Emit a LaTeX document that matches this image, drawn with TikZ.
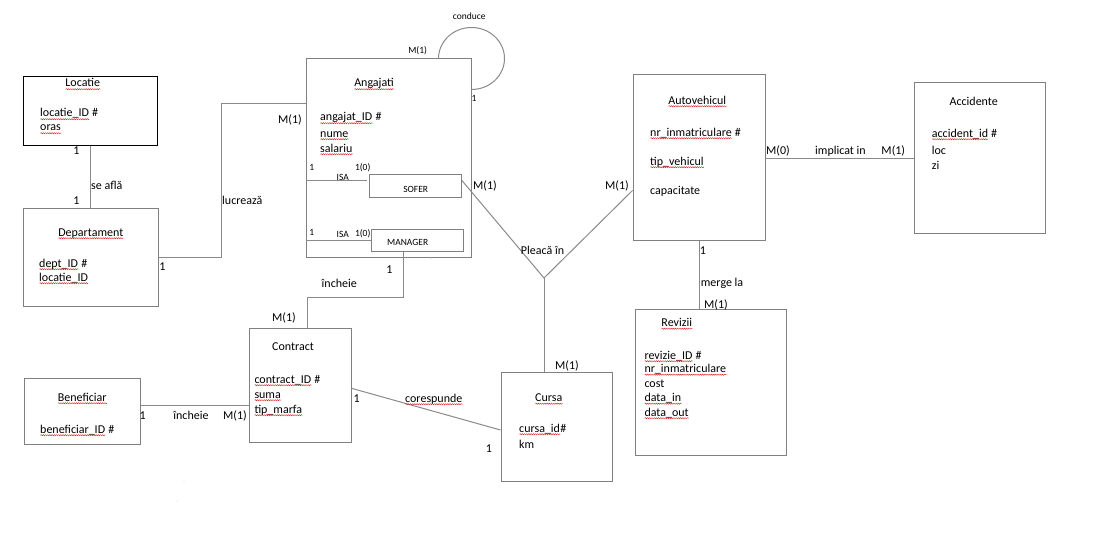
\documentclass[tikz,border=0pt]{standalone}
\usepackage{fontspec}
\setmainfont{Carlito}
\usetikzlibrary{calc,decorations.pathmorphing}
\definecolor{boxgray}{HTML}{808080}
\definecolor{linegray}{HTML}{8A8A8A}
\definecolor{spellred}{HTML}{E02525}
% red wavy underline for spell-checked words
\newcommand\spl[1]{\setbox0\hbox{#1}\leavevmode\rlap{\copy0}%
  \tikz[baseline=0pt,x=1pt,y=1pt]\draw[spellred,line width=0.45pt,decorate,
    decoration={snake,amplitude=0.6pt,segment length=2.2pt}] (0pt,-2.2pt) -- (\the\wd0,-2.2pt);}
\begin{document}
\begin{tikzpicture}[x=1pt,y=1pt,font=\fontsize{12}{14}\selectfont,
  ent/.style={draw=boxgray,line width=1pt,inner sep=0pt},
  conn/.style={draw=linegray,line width=1pt},
  txt/.style={inner sep=0pt,anchor=base},
  txtw/.style={inner sep=0pt,anchor=base west},
  sm/.style={font=\fontsize{9.5}{11}\selectfont}]
\useasboundingbox[fill=white] (0,0) rectangle (1104,-551);

% entities
\node[ent,draw=black,minimum width=134,minimum height=68] (loc) at (90,-111) {};
\node[ent,minimum width=135,minimum height=98] (dep) at (90.5,-257) {};
\node[ent,minimum width=165,minimum height=198] (ang) at (388.5,-158) {};
\node[ent,minimum width=92,minimum height=23] (sofer) at (415,-185.5) {};
\node[ent,minimum width=92,minimum height=22] (man) at (417,-240) {};
\node[ent,minimum width=132,minimum height=165] (aut) at (699,-157.5) {};
\node[ent,minimum width=131,minimum height=150] (acc) at (979.5,-158) {};
\node[ent,minimum width=151,minimum height=146] (rev) at (710.5,-382) {};
\node[ent,minimum width=111,minimum height=109] (cur) at (556.5,-426.5) {};
\node[ent,minimum width=102,minimum height=114] (con) at (300,-385) {};
\node[ent,minimum width=116,minimum height=66] (ben) at (82,-411) {};

% connectors
\draw[conn] (loc.south) -- (loc.south |- dep.north);
\coordinate (lucB) at (221,-104);
\draw[conn] (dep.east) -| (lucB) -- (lucB -| ang.west);
\coordinate (isaA) at ($(ang.west |- sofer.north)+(0,-7)$);
\coordinate (isaB) at ($(sofer.west |- sofer.north)+(-2,-7)$);
\draw[conn] (isaA) -- (isaB);
\draw[conn] (ang.west |- man.west) -- (man.west);
\draw[conn] ($(ang.north east)+(-33,0)$) arc[start angle=180,end angle=-90,x radius=33pt,y radius=31pt];
\coordinate (pv) at (544,-278);
\draw[conn] ($(sofer.east)+(0,5.5)$) -- (pv) -- ($(aut.west)+(0,-33)$);
\draw[conn] (pv) -- (pv |- cur.north);
\draw[conn] (aut.east |- acc.west) -- (acc.west);
\draw[conn] (aut.south) -- (aut.south |- rev.north);
\draw[conn] ($(man.south)+(-14,0)$) -- ++(0,-46) -| ($(con.north)+(7,0)$);
\draw[conn] ($(ben.east)+(0,6)$) -- ($(con.west)+(0,-20)$);
\draw[conn] ($(con.east)+(0,-3.3)$) -- ($(cur.west)+(0,-3.5)$);

% faint specks
\fill[gray!60] (431,-258) circle (0.6);
\fill[gray!40] (184,-481) circle (0.5);
\fill[gray!40] (177,-501) circle (0.5);

% Locatie
\node[txt] (tLoc) at (83,-87) {\spl{Locatie}};
\node[txtw] (aLoc1) at (40,-117) {\spl{locatie\_ID} \#};
\node[txtw] (aLoc2) at (40,-131) {\spl{oras}};
% Departament
\node[txt] (tDep) at (91,-236) {\spl{Departament}};
\node[txtw] (aDep1) at (39,-267) {\spl{dept\_ID} \#};
\node[txtw] (aDep2) at (39,-281) {\spl{locatie\_ID}};
% Angajati
\node[txt] (tAng) at (374.3,-87) {\spl{Angajati}};
\node[txtw] (aAng1) at (320,-121) {\spl{angajat\_ID} \#};
\node[txtw] (aAng2) at (320,-137) {\spl{nume}};
\node[txtw] (aAng3) at (320,-152) {\spl{salariu}};
\node[txt,sm] (tSof) at (415.7,-192) {SOFER};
\node[txt,sm] (tMan) at (407.7,-245) {MANAGER};
\node[txt,sm] (isa1) at (342.7,-180) {ISA};
\node[txt,sm] (isa2) at (342.7,-237.5) {ISA};
\node[txt,sm] (cS1) at (311.7,-170) {1};
\node[txt,sm] (cS2) at (362.7,-170) {1(0)};
\node[txt,sm] (cM1) at (311.7,-235.5) {1};
\node[txt,sm] (cM2) at (362.7,-236) {1(0)};
\node[txt,sm] (lCond) at (469.3,-20) {conduce};
\node[txt,sm] (cCond1) at (417.7,-53.5) {M(1)};
\node[txt,sm] (cCond2) at (474,-102) {1};
% lucreaza / se afla
\node[txtw] (lLuc) at (222,-204) {lucrează};
\node[txt] (cLuc1) at (162.3,-270) {1};
\node[txt] (cLuc2) at (290,-123) {M(1)};
\node[txtw] (lSe) at (91,-189) {se află};
\node[txt] (cSe1) at (76.3,-154) {1};
\node[txt] (cSe2) at (76.3,-204) {1};
% Pleaca in
\node[txt] (cPl1) at (485,-189) {M(1)};
\node[txt] (cPl2) at (617,-189) {M(1)};
\node[txt] (lPl) at (542.5,-254.5) {Pleacă în};
\node[txt] (cPl3) at (567,-369) {M(1)};
% Autovehicul
\node[txt] (tAut) at (697.5,-104) {\spl{Autovehicul}};
\node[txtw] (aAut1) at (650,-136) {\spl{nr\_inmatriculare} \#};
\node[txtw] (aAut2) at (650,-165) {\spl{tip\_vehicul}};
\node[txtw] (aAut3) at (650,-194) {capacitate};
% implicat in
\node[txt] (cImp1) at (778,-154) {M(0)};
\node[txt] (lImp) at (840.5,-154) {implicat in};
\node[txt] (cImp2) at (893.3,-154) {M(1)};
% Accidente
\node[txt] (tAcc) at (973.7,-105.5) {Accidente};
\node[txtw] (aAcc1) at (931.7,-137) {\spl{accident\_id} \#};
\node[txtw] (aAcc2) at (931.7,-154) {loc};
\node[txtw] (aAcc3) at (931.7,-169) {zi};
% merge la
\node[txt] (cMer1) at (703,-254) {1};
\node[txtw] (lMer) at (700.7,-286.5) {merge la};
\node[txt] (cMer2) at (716,-308) {M(1)};
% Revizii
\node[txt] (tRev) at (677,-326.5) {\spl{Revizii}};
\node[txtw] (aRev1) at (644.3,-359) {\spl{revizie\_ID} \#};
\node[txtw] (aRev2) at (644.3,-372.5) {\spl{nr\_inmatriculare}};
\node[txtw] (aRev3) at (644.3,-387.5) {cost};
\node[txtw] (aRev4) at (644.3,-401.5) {\spl{data\_in}};
\node[txtw] (aRev5) at (644.3,-416) {\spl{data\_out}};
% Cursa
\node[txt] (tCur) at (549,-401.5) {\spl{Cursa}};
\node[txtw] (aCur1) at (519,-432) {\spl{cursa\_id}\#};
\node[txtw] (aCur2) at (519,-448) {km};
% corespunde
\node[txt] (cCor1) at (356.7,-402.5) {1};
\node[txt] (lCor) at (434,-402) {\spl{corespunde}};
\node[txt] (cCor2) at (489,-452) {1};
% Contract
\node[txt] (tCon) at (293,-350.5) {Contract};
\node[txtw] (aCon1) at (254.3,-383) {\spl{contract\_ID} \#};
\node[txtw] (aCon2) at (254.3,-398) {\spl{suma}};
\node[txtw] (aCon3) at (254.3,-413) {\spl{tip\_marfa}};
% Beneficiar
\node[txt] (tBen) at (82.5,-401) {\spl{Beneficiar}};
\node[txtw] (aBen1) at (40,-433) {\spl{beneficiar\_ID} \#};
% incheie (Beneficiar - Contract)
\node[txt] (cInB1) at (142.7,-419.5) {1};
\node[txt] (lInB) at (191,-419.5) {încheie};
\node[txt] (cInB2) at (235,-419.5) {M(1)};
% incheie (Manager - Contract)
\node[txt] (cInM1) at (389.3,-273) {1};
\node[txt] (lInM) at (339.3,-287) {încheie};
\node[txt] (cInM2) at (284,-321) {M(1)};
\end{tikzpicture}
\end{document}
